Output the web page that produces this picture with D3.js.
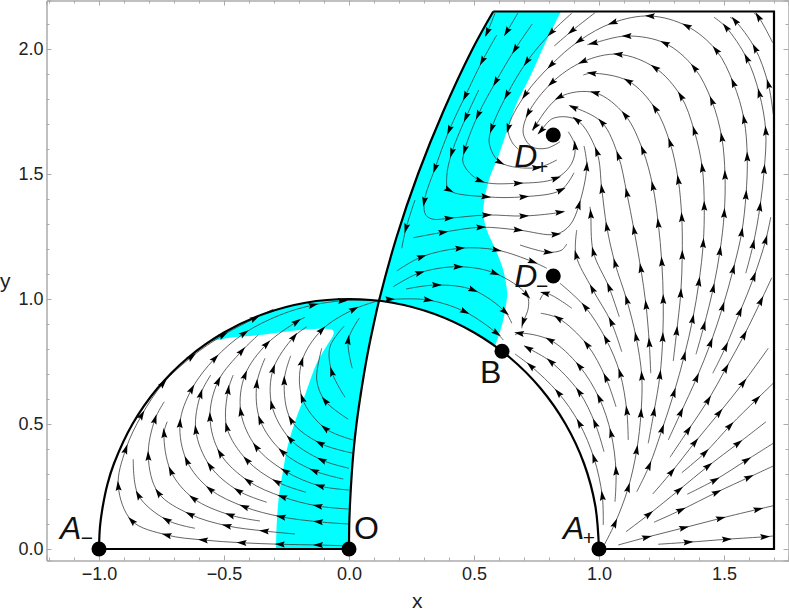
<!DOCTYPE html>
<html>
<head>
<meta charset="utf-8">
<script src="https://cdn.jsdelivr.net/npm/d3@7"></script>
<style>
  body { margin: 0; background: #fff; }
  text { font-family: "Liberation Sans", Arial, sans-serif; }
</style>
</head>
<body>
<div id="general"></div>
<script>
// ticks
const xMajor = [-1, -0.5, 0, 0.5, 1, 1.5];
const xMinor = [-1.2, -1.1, -0.9, -0.8, -0.7, -0.6, -0.4, -0.3, -0.2, -0.1, 0.1, 0.2, 0.3, 0.4, 0.6, 0.7, 0.8, 0.9, 1.1, 1.2, 1.3, 1.4, 1.6, 1.7];
const yMajor = [0, 0.5, 1, 1.5, 2];
const yMinor = [0.1, 0.2, 0.3, 0.4, 0.6, 0.7, 0.8, 0.9, 1.1, 1.2, 1.3, 1.4, 1.6, 1.7, 1.8, 1.9, 2.1];

// boundary curves
const circle = [[-1,0],[-.996,.09],[-.985,.17],[-.966,.26],[-.94,.342],[-.866,.5],[-.766,.643],[-.643,.766],[-.5,.866],[-.342,.94],[-.174,.985],[0,1],[.174,.985],[.342,.94],[.5,.866],[.643,.766],[.766,.643],[.866,.5],[.94,.342],[.985,.174],[1,0]];
const curveO = [[0,0],[.001,.1],[.005,.2],[.011,.3],[.019,.4],[.030,.5],[.044,.6],[.060,.7],[.078,.8],[.099,.9],[.120,.993],[.191,1.25],[.276,1.5],[.377,1.75],[.494,2],[.577,2.15]];
const boxRight = [[.577,2.15],[1.7,2.15],[1.7,0],[1,0]];
const baseLeft = [[-1,0],[0,0]];

// cyan patch edges
const cyanRightEdge = [[.848,2.15],[.791,2.036],[.724,1.889],[.671,1.783],[.637,1.689],[.597,1.569],[.564,1.489],[.544,1.409],[.537,1.343],[.551,1.276],[.584,1.203],[.617,1.116],[.633,1.023],[.631,.996],[.617,.916],[.597,.849],[.584,.812]];
const cyanRightArc = [[.584,.812],[.5,.866],[.4,.917],[.3,.954],[.2,.98],[.12,.993]];
const cyanRightO = [[.12,.993],[.191,1.25],[.276,1.5],[.377,1.75],[.494,2],[.577,2.15]];
const cyanLeftEdge = [[-.292,0],[-.289,.103],[-.279,.223],[-.263,.316],[-.249,.396],[-.216,.509],[-.176,.616],[-.129,.743],[-.083,.823],[-.063,.856],[-.063,.873],[-.083,.88],[-.196,.876],[-.356,.856],[-.463,.847],[-.556,.83]];
const cyanLeftArc = [[-.556,.83],[-.5,.866],[-.342,.94],[-.174,.985],[0,1],[.12,.993]];
const cyanLeftO = [[.12,.993],[.099,.9],[.078,.8],[.06,.7],[.044,.6],[.03,.5],[.019,.4],[.011,.3],[.005,.2],[.001,.1],[0,0]];

// fixed points
const pointsXY = [[-1,0],[0,0],[1,0],[.612,.791],[.817,1.092],[.817,1.656]];

// streamlines in flow direction, arrow on each inner vertex unless flagged 0
const streamsLeft = [
  [[-.023,.013],[-.123,.016],[-.276,.019],[-.429,.025],[-.583,.036],[-.729,.056],[-.869,.113],[-.923,.252],[-.893,.399],[-.829,.536],[-.743,.663],[-.629,.769],[-.503,.856],[-.376,.923],[-.303,.959]],
  [[-.216,.060],[-.339,.072],[-.489,.093],[-.636,.139],[-.763,.225],[-.803,.372],[-.776,.519],[-.739,.589]],
  [[-.616,.083],[-.729,.116],[-.843,.216],[-.863,.359]],
  [[-.003,.100],[-.123,.109],[-.272,.129],[-.419,.169],[-.556,.239],[-.649,.353],[-.676,.503],[-.629,.640],[-.536,.763],[-.419,.863],[-.276,.936,0],[-.143,.976],[-.025,.993],[.111,.993]],
  [[-.356,.112],[-.476,.136],[-.623,.203],[-.713,.312],[-.740,.463],[-.727,.509]],
  [[-.329,.187],[-.443,.233],[-.556,.332],[-.613,.476],[-.593,.620],[-.553,.696]],
  [[-.003,.160],[-.125,.172],[-.267,.209],[-.403,.272],[-.516,.383],[-.556,.527],[-.523,.672],[-.429,.792],[-.363,.856]],
  [[-.172,.227],[-.289,.269],[-.409,.356],[-.489,.487],[-.483,.636],[-.463,.696]],
  [[0,.236],[-.116,.252],[-.256,.312],[-.372,.409],[-.433,.549],[-.416,.696],[-.329,.820],[-.209,.909],[-.176,.927]],
  [[-.023,.280],[-.139,.313],[-.267,.389],[-.356,.516],[-.369,.660],[-.336,.763]],
  [[0,.323],[-.109,.356],[-.236,.440],[-.309,.576],[-.303,.720],[-.220,.849],[-.169,.889]],
  [[.017,.383],[-.116,.423],[-.232,.516],[-.259,.673],[-.233,.773]],
  [[.017,.436],[-.096,.483],[-.187,.603],[-.189,.749],[-.109,.876],[.020,.959],[.117,.993]],
  [[-.003,.519],[-.096,.593],[-.129,.676,0],[-.109,.803]],
  [[-.016,.607],[-.069,.709],[-.076,.809,0],[-.019,.892]],
  [[.013,.723],[-.003,.836],[.041,.923]]
];

const streamsCyan = [
  [[.584,2.143],[.553,2.067],[.545,2.052]],
  [[.675,2.143],[.631,2.069],[.624,2.059]],
  [[.591,2.056],[.533,1.952],[.465,1.812],[.401,1.676],[.344,1.523],[.301,1.389],[.307,1.336,0],[.337,1.319,0],[.400,1.323],[.551,1.336],[.700,1.332],[.844,1.347],[.857,1.352]],
  [[.519,1.836],[.468,1.727],[.411,1.585],[.391,1.489,0],[.400,1.436],[.548,1.409],[.700,1.409],[.848,1.436],[.900,1.505]],
  [[.733,2.100],[.664,1.999],[.587,1.869],[.516,1.736],[.463,1.596],[.457,1.543,0],[.524,1.473],[.677,1.463],[.828,1.483],[.891,1.543,0],[.904,1.613],[.877,1.669]],
  [[.891,2.143],[.808,2.065],[.711,1.949],[.631,1.816],[.571,1.683],[.561,1.623,0],[.604,1.547],[.751,1.525],[.831,1.556]],
  [[.984,2.145],[.891,2.072],[.821,2.012]],
  [[.257,1.245],[.377,1.267],[.528,1.287],[.677,1.276],[.828,1.259],[.884,1.296,0],[.920,1.376],[.951,1.529],[.940,1.612]],
  [[.684,1.216],[.797,1.187],[.851,1.196,0],[.871,1.220]],
  [[.191,1.112],[.291,1.169],[.444,1.203],[.591,1.196],[.735,1.149],[.791,1.123]],
  [[.177,1.049],[.284,1.105],[.437,1.129],[.584,1.103],[.711,1.016],[.717,.963,0],[.697,.909],[.691,.883]],
  [[.228,1.040],[.351,1.056],[.497,1.036],[.624,.949],[.651,.903]],
  [[.151,.999],[.164,.999],[.317,.996],[.464,.949],[.591,.863],[.617,.836]],
  [[.264,1.396],[.228,1.283],[.211,1.203]]
];

const streamsRight = [
  [[1.277,.436],[1.328,.547],[1.391,.685],[1.447,.825],[1.495,.969],[1.537,1.119],[1.571,1.267],[1.588,1.416],[1.593,1.569],[1.580,1.719],[1.537,1.865],[1.468,1.996],[1.351,2.092],[1.204,2.132],[1.055,2.105],[.921,2.033],[.808,1.936],[.704,1.816],[.637,1.683],[.651,1.629,0],[.677,1.599]],
  [[1.388,.779],[1.420,.893],[1.457,1.043],[1.484,1.192],[1.501,1.343],[1.504,1.496],[1.491,1.647],[1.451,1.793],[1.381,1.925],[1.264,2.023],[1.111,2.052],[.977,2.023],[.953,2.017]],
  [[1.151,.229],[1.201,.333],[1.253,.480],[1.300,.625],[1.341,.772],[1.375,.920],[1.400,1.069],[1.417,1.223],[1.421,1.372],[1.413,1.525],[1.381,1.673],[1.327,1.812],[1.224,1.925],[1.077,1.979],[.935,1.949],[.811,1.865],[.717,1.743],[.697,1.663,0],[.731,1.609,0],[.791,1.603,0],[.844,1.629]],
  [[1.297,.752],[1.311,.872],[1.327,1.023],[1.333,1.176],[1.331,1.327],[1.317,1.476],[1.284,1.625],[1.224,1.763],[1.117,1.872],[.971,1.903],[.937,1.896]],
  [[1.197,.423],[1.220,.549],[1.244,.696],[1.255,.847],[1.257,.999],[1.251,1.149],[1.237,1.303],[1.215,1.452],[1.175,1.596],[1.104,1.736],[.984,1.825],[.841,1.807],[.744,1.689],[.737,1.673]],
  [[1.207,.703],[1.201,.825],[1.188,.976],[1.167,1.123],[1.140,1.276],[1.111,1.425],[1.077,1.573],[1.011,1.707],[.897,1.767],[.884,1.769]],
  [[1.017,.009],[1.064,.103],[1.117,.245],[1.151,.396],[1.168,.543],[1.171,.692],[1.148,.849],[1.111,.996],[1.064,1.143],[1.031,1.289],[1.011,1.440],[.991,1.589],[.911,1.716],[.817,1.723,0],[.768,1.673],[.761,1.663]],
  [[1.091,.789],[1.048,.909],[.973,1.041],[.908,1.176],[.911,1.276]],
  [[1.081,.929],[1.040,1.047],[.977,1.189],[.967,1.340],[.964,1.369]],
  [[1.117,.436],[1.111,.553],[1.084,.703],[1.028,.839],[.944,.969],[.844,1.063]],
  [[1.068,.569],[1.027,.685],[.951,.819],[.837,.923],[.767,.943]],
  [[.891,.963],[.784,1.023],[.764,.996]],
  [[1.064,.189],[1.068,.313],[1.048,.463],[1.001,.603],[.921,.732],[.804,.836],[.681,.863],[.664,.856]],
  [[1.020,.389],[.984,.503],[.920,.629],[.807,.749],[.717,.803],[.701,.812]],
  [[1.017,.096],[1.013,.213],[.980,.363],[.921,.503],[.837,.625],[.727,.732],[.664,.780]],
  [[1.237,.019],[1.357,.027],[1.511,.039],[1.664,.049],[1.697,.052]],
  [[1.077,.016],[1.191,.047],[1.340,.085],[1.487,.123],[1.637,.159],[1.697,.173]],
  [[1.220,.107],[1.328,.156],[1.471,.227],[1.600,.287],[1.697,.332]],
  [[1.353,.219],[1.464,.276],[1.591,.356],[1.697,.423]],
  [[1.108,.069],[1.200,.139],[1.320,.236],[1.437,.332],[1.557,.423],[1.668,.509]],
  [[1.331,.305],[1.424,.385],[1.524,.493],[1.631,.599],[1.697,.663]],
  [[1.215,.220],[1.291,.309],[1.384,.427],[1.481,.545],[1.577,.665],[1.677,.803]],
  [[1.284,.367],[1.357,.476],[1.437,.596],[1.508,.723],[1.581,.856],[1.648,.993],[1.691,1.085]],
  [[1.455,.703],[1.507,.809],[1.564,.949],[1.620,1.089],[1.667,1.236],[1.687,1.327]],
  [[1.587,1.103],[1.617,1.219],[1.644,1.369],[1.661,1.519],[1.667,1.672],[1.641,1.823],[1.591,1.963],[1.508,2.087],[1.460,2.127]],
  [[1.697,1.740],[1.677,1.860],[1.624,2.003],[1.544,2.113],[1.524,2.127]],
  [[1.695,2.025],[1.637,2.129],[1.620,2.143]]
];

const w = 789, h = 613;
const m = {l: 46.5, r: 788.5, t: 0.5, b: 560.5};

const x = d3.scaleLinear().domain([-1.21, 1.758]).range([m.l, m.r]);
const y = d3.scaleLinear().domain([-0.046, 2.194]).range([m.b, m.t]);

const svg = d3.select("#general").append("svg").attr("width", w).attr("height", h).style("display", "block");

const line = d3.line().x(d => x(d[0])).y(d => y(d[1])).curve(d3.curveCatmullRom);
const joined = parts => parts.map((p, i) => i ? line(p).replace("M", "L") : line(p)).join("") + "Z";

// cyan patches
svg.append("path").attr("fill", "#00ffff").attr("d", joined([cyanRightEdge, cyanRightArc, cyanRightO]));
svg.append("path").attr("fill", "#00ffff").attr("d", joined([cyanLeftEdge, cyanLeftArc, cyanLeftO]));

// axes, four sides
function frame(axisFn, transform, major, minor, labelled, fmt) {
  const g = svg.append("g").attr("transform", transform).attr("class", "axis");
  g.call(axisFn.tickValues(minor).tickSize(-3).tickFormat(""));
  const g2 = svg.append("g").attr("transform", transform).attr("class", "axis");
  g2.call(axisFn.tickValues(major).tickSize(-5).tickPadding(labelled.pad).tickFormat(labelled.show ? fmt : ""));
}
const fmt = d3.format(".1f");
frame(d3.axisBottom(x), `translate(0,${m.b})`, xMajor, xMinor, {show: true, pad: 7}, fmt);
frame(d3.axisTop(x), `translate(0,${m.t})`, xMajor, xMinor, {show: false, pad: 3}, fmt);
frame(d3.axisLeft(y), `translate(${m.l},0)`, yMajor, yMinor, {show: true, pad: 3}, fmt);
frame(d3.axisRight(y), `translate(${m.r},0)`, yMajor, yMinor, {show: false, pad: 3}, fmt);
svg.selectAll(".axis path, .axis line").attr("stroke", "#ababab").attr("stroke-width", 1);
svg.selectAll(".axis text").attr("fill", "#222").attr("font-size", 18).attr("font-family", '"Liberation Sans", Arial, sans-serif');

// streamlines
const streams = [...streamsLeft, ...streamsCyan, ...streamsRight];
svg.append("g").selectAll("path").data(streams).join("path")
  .attr("d", d => line(d))
  .attr("fill", "none")
  .attr("stroke", "#3c3c3c")
  .attr("stroke-width", 0.8);

// arrows on the inner vertices
const arrows = streams.flatMap(s => s.map((p, i) => {
  if (i === 0 || i === s.length - 1 || p[2] === 0) return null;
  const a = s[i - 1], b = s[i + 1];
  const angle = Math.atan2(y(b[1]) - y(a[1]), x(b[0]) - x(a[0])) * 180 / Math.PI;
  return {x: x(p[0]), y: y(p[1]), angle};
}).filter(d => d));
svg.append("g").selectAll("path").data(arrows).join("path")
  .attr("d", "M5.2,0L-4.8,3L-3.2,0L-4.8,-3Z")
  .attr("fill", "#000")
  .attr("transform", d => `translate(${d.x},${d.y}) rotate(${d.angle})`);

// thick boundaries
svg.append("g").selectAll("path").data([circle, curveO]).join("path")
  .attr("d", d => line(d)).attr("fill", "none").attr("stroke", "#000").attr("stroke-width", 2.2);
const straight = d3.line().x(d => x(d[0])).y(d => y(d[1]));
svg.append("g").selectAll("path").data([boxRight, baseLeft]).join("path")
  .attr("d", d => straight(d)).attr("fill", "none").attr("stroke", "#000").attr("stroke-width", 2.2);

// fixed points
svg.append("g").selectAll("circle").data(pointsXY).join("circle")
  .attr("cx", d => x(d[0])).attr("cy", d => y(d[1])).attr("r", 7.5).attr("fill", "#000");

// point labels
function label(txt, px, py, italic) {
  svg.append("text").text(txt).attr("x", px).attr("y", py)
    .attr("font-size", 32).attr("font-style", italic ? "italic" : "normal").attr("fill", "#111");
}
function sub(txt, px, py) {
  svg.append("text").text(txt).attr("x", px).attr("y", py)
    .attr("text-anchor", "middle").attr("font-size", 21).attr("fill", "#111");
}
label("A", x(-1) - 39, y(0) - 10, true); sub("\u2212", x(-1) - 12, y(0) - 4);
label("O", x(0) + 5, y(0) - 10, false);
label("A", x(1) - 36, y(0) - 10, true); sub("+", x(1) - 10, y(0) - 4);
label("B", x(.612) - 22, y(.791) + 32, false);
label("D", x(.817) - 39, y(1.656) + 32, true); sub("+", x(.817) - 11, y(1.656) + 39);
label("D", x(.817) - 39, y(1.092) + 11, true); sub("\u2212", x(.817) - 11, y(1.092) + 17);

// axis titles
svg.append("text").text("x").attr("x", 412).attr("y", 608).attr("font-size", 21).attr("fill", "#222");
svg.append("text").text("y").attr("x", 0).attr("y", 288).attr("font-size", 21).attr("fill", "#222");
</script>
</body>
</html>
